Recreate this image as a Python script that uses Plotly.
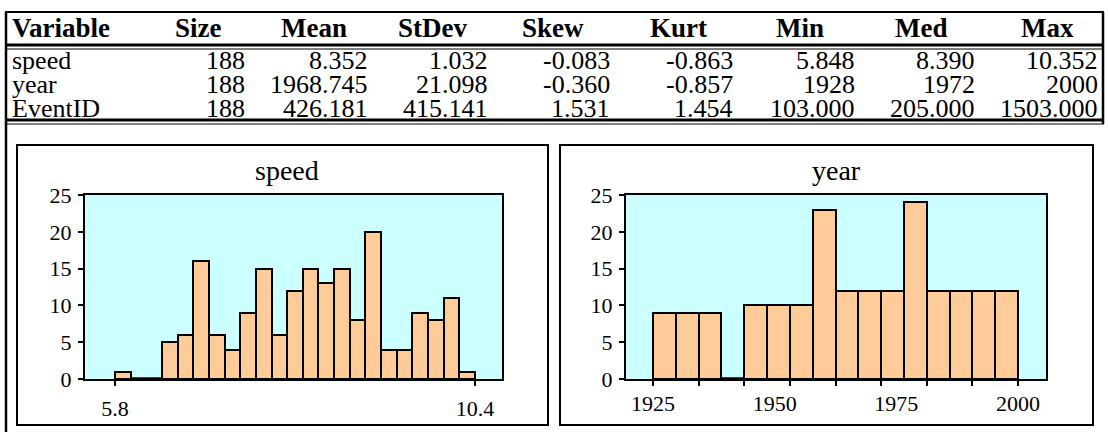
import plotly.graph_objects as go

# ---------------- data ----------------
variables = ["speed", "year", "EventID"]
stat_headers = ["Size", "Mean", "StDev", "Skew", "Kurt", "Min", "Med", "Max"]
size_vals = ["188", "188", "188"]
mean_vals = ["8.352", "1968.745", "426.181"]
stdev_vals = ["1.032", "21.098", "415.141"]
skew_vals = ["-0.083", "-0.360", "1.531"]
kurt_vals = ["-0.863", "-0.857", "1.454"]
min_vals = ["5.848", "1928", "103.000"]
med_vals = ["8.390", "1972", "205.000"]
max_vals = ["10.352", "2000", "1503.000"]

speed_bin_start = 5.8
speed_bin_width = 0.2
speed_counts = [1, 0, 0, 5, 6, 16, 6, 4, 9, 15, 6, 12, 15, 13, 15, 8, 20, 4, 4, 9, 8, 11, 1]
speed_tickvals = [5.8, 10.4]
speed_ticktext = ["5.8", "10.4"]

year_bin_start = 1925
year_bin_width = 75 / 16
year_counts = [9, 9, 9, 0, 10, 10, 10, 23, 12, 12, 12, 24, 12, 12, 12, 12]
year_tickvals = [1925, 1950, 1975, 2000]
year_ticktext = ["1925", "1950", "1975", "2000"]

y_tickvals = [0, 5, 10, 15, 20, 25]

# ---------------- layout helpers ----------------
W, H = 1108, 432
FONT = "Liberation Serif"


def fx(x):
    return x / W


def fy(y):
    return 1 - y / H


fig = go.Figure()


def add_hist(start, width, counts, xa, ya):
    centers = [start + width * (i + 0.5) for i in range(len(counts))]
    fig.add_trace(go.Bar(
        x=centers, y=counts, width=[width] * len(counts),
        marker=dict(color="#FFCC99", line=dict(color="black", width=2)),
        xaxis=xa, yaxis=ya, showlegend=False, hoverinfo="x+y",
    ))
    zx, zy = [], []
    for i, c in enumerate(counts):
        if c == 0:
            zx += [start + width * i, start + width * (i + 1), None]
            zy += [0, 0, None]
    if zx:
        fig.add_trace(go.Scatter(
            x=zx, y=zy, mode="lines", line=dict(color="black", width=3.5),
            xaxis=xa, yaxis=ya, showlegend=False, hoverinfo="skip", cliponaxis=False,
        ))


add_hist(speed_bin_start, speed_bin_width, speed_counts, "x", "y")
add_hist(year_bin_start, year_bin_width, year_counts, "x2", "y2")

# axis ranges in data units from pixel geometry
sp_px_per = (475 - 115) / (speed_tickvals[-1] - speed_tickvals[0])
sp_range = [speed_tickvals[0] - (115 - 85) / sp_px_per, speed_tickvals[-1] + (502 - 475) / sp_px_per]
yr_lo = year_bin_start
yr_hi = year_bin_start + year_bin_width * len(year_counts)
yr_px_per = (1018 - 653) / (yr_hi - yr_lo)
yr_range = [yr_lo - (653 - 626) / yr_px_per, yr_hi + (1046 - 1018) / yr_px_per]

tickfont = dict(family=FONT, size=22, color="black")
common_x = dict(showgrid=False, zeroline=False, showline=True, linecolor="black", linewidth=2,
                mirror=True, tickfont=tickfont, ticklabelstandoff=4, fixedrange=True,
                automargin=False)
common_y = dict(range=[0, 25], tickvals=y_tickvals, showgrid=False, zeroline=False, showline=True,
                linecolor="black", linewidth=2, mirror=True, ticks="outside", ticklen=5,
                tickwidth=1.5, tickcolor="black", tickfont=tickfont, ticklabelstandoff=2,
                fixedrange=True, automargin=False)

fig.update_layout(
    width=W, height=H, margin=dict(l=0, r=0, t=0, b=0, pad=0, autoexpand=False),
    paper_bgcolor="white", plot_bgcolor="#CCFFFF", bargap=0,
    font=dict(family=FONT, color="black"),
    xaxis=dict(domain=[fx(85), fx(502)], range=sp_range, tickvals=speed_tickvals,
               ticktext=speed_ticktext, ticks="outside", ticklen=5, tickwidth=1.5,
               tickcolor="black", anchor="y", **common_x),
    yaxis=dict(domain=[fy(379), fy(195)], anchor="x", **common_y),
    xaxis2=dict(domain=[fx(626), fx(1046)], range=yr_range, tickvals=year_tickvals,
                ticktext=year_ticktext, ticks="", anchor="y2",
                minor=dict(ticks="outside", ticklen=5, tickwidth=1.5, tickcolor="black",
                           tick0=year_bin_start, dtick=year_bin_width * 2),
                **common_x),
    yaxis2=dict(domain=[fy(379), fy(195)], anchor="x2", **common_y),
)

shapes = []


def line(x0, y0, x1, y1, w):
    shapes.append(dict(type="line", xref="paper", yref="paper", x0=fx(x0), y0=fy(y0),
                       x1=fx(x1), y1=fy(y1), line=dict(color="black", width=w), layer="above"))


def rect(x0, y0, x1, y1, w):
    shapes.append(dict(type="rect", xref="paper", yref="paper", x0=fx(x0), y0=fy(y0),
                       x1=fx(x1), y1=fy(y1), line=dict(color="black", width=w),
                       fillcolor="rgba(0,0,0,0)", layer="above"))


# table frame
line(5, 12, 1104, 12, 2)
line(6, 12, 6, 432, 2.5)
line(1103, 12, 1103, 124, 2.5)
line(5, 45, 1104, 45, 3)
line(5, 49, 1104, 49, 1)
line(5, 120, 1104, 120, 3)
line(5, 124, 1104, 124, 1)
# panels
rect(17, 145, 548, 425, 2)
rect(560, 145, 1093, 425, 2)
fig.update_layout(shapes=shapes)

ann = []
hdr_font = dict(family=FONT, size=27, color="black", weight="bold")
cell_font = dict(family=FONT, size=26, color="black")
title_font = dict(family=FONT, size=28, color="black")
header_y = 27.5
row_ys = [60.5, 84.5, 108.5]
header_cx = [198, 314, 432, 553, 678, 800, 921, 1047]
value_rx = [247, 370, 490, 612, 735, 857, 977, 1100]

ann.append(dict(text="<b>Variable</b>", x=fx(10), y=fy(header_y), xanchor="left", yanchor="middle",
                font=hdr_font))
for h, cx in zip(stat_headers, header_cx):
    ann.append(dict(text=f"<b>{h}</b>", x=fx(cx), y=fy(header_y), xanchor="center",
                    yanchor="middle", font=hdr_font))

columns = [size_vals, mean_vals, stdev_vals, skew_vals, kurt_vals, min_vals, med_vals, max_vals]
for r, (v, ry) in enumerate(zip(variables, row_ys)):
    ann.append(dict(text=v, x=fx(10), y=fy(ry), xanchor="left", yanchor="middle", font=cell_font))
    for col, rx in zip(columns, value_rx):
        ann.append(dict(text=col[r], x=fx(rx), y=fy(ry), xanchor="right", yanchor="middle",
                        font=cell_font))

ann.append(dict(text="speed", x=fx(287), y=fy(170), xanchor="center", yanchor="middle",
                font=title_font))
ann.append(dict(text="year", x=fx(836), y=fy(170), xanchor="center", yanchor="middle",
                font=title_font))
for a in ann:
    a.update(xref="paper", yref="paper", showarrow=False)
fig.update_layout(annotations=ann)

fig.write_html(
    "out.html",
    config={"displayModeBar": False},
    post_script="document.documentElement.style.margin='0';document.body.style.margin='0';"
                "document.body.style.padding='0';document.body.style.overflow='hidden';",
)
